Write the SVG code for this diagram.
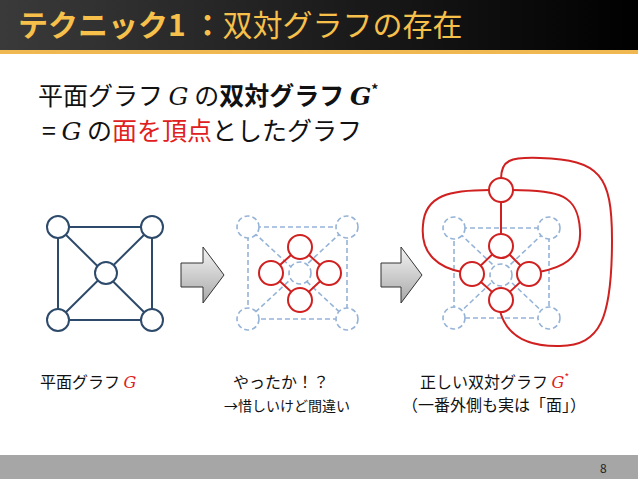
<svg xmlns="http://www.w3.org/2000/svg" width="638" height="479" viewBox="0 0 638 479">
<style>
text{font-family:"Noto Sans CJK JP","Noto Sans",sans-serif}
.m{font-family:"DejaVu Serif",serif;font-style:italic}
.g{fill:#fff;stroke:#2e4a6b;stroke-width:2}
.ge{stroke:#2e4a6b;stroke-width:2;fill:none}
.d{fill:#fff;stroke:#95b3d7;stroke-width:1.6;stroke-dasharray:5,3}
.de{stroke:#95b3d7;stroke-width:1.6;stroke-dasharray:5,3;fill:none}
.r{fill:#fff;stroke:#d02020;stroke-width:2}
.re{stroke:#d02020;stroke-width:2;fill:none}
.ar{fill:url(#ag);stroke:#333;stroke-width:1}
</style>
<defs>
<linearGradient id="hg" x1="0" x2="1"><stop offset="0" stop-color="#3a3a3a"/><stop offset="1" stop-color="#000"/></linearGradient>
<linearGradient id="ag" x1="0" y1="0" x2="0" y2="1"><stop offset="0" stop-color="#f4f4f4"/><stop offset="1" stop-color="#a8a8a8"/></linearGradient>
</defs>
<rect width="638" height="479" fill="#fff"/>
<rect width="638" height="50" fill="url(#hg)"/>
<rect y="50" width="638" height="4" fill="#f0b850"/>
<text x="18" y="36" font-size="30" fill="#f7c04a"><tspan font-weight="bold">テクニック1 ：</tspan>双対グラフの存在</text>
<text x="38" y="105" font-size="25" fill="#111">平面グラフ <tspan class="m">G</tspan> の<tspan font-weight="bold">双対グラフ <tspan class="m">G</tspan><tspan font-size="14" dy="-10">*</tspan></tspan></text>
<text x="42" y="140" font-size="25" fill="#111">= <tspan class="m">G</tspan> の<tspan fill="#e02020">面を頂点</tspan>としたグラフ</text>
<g id="connectors">
<path class="ge" d="M58 227H152V320H58Z M58 227L152 320 M152 227L58 320"/>
<path class="de" d="M248 227H347V319H248Z M248 227L347 319 M347 227L248 319"/>
<path class="re" d="M300 247L271 273L300 300L329 273Z"/>
<path class="de" d="M454 228H549V318H454Z M454 228L549 318 M549 228L454 318"/>
<path class="re" d="M501 246L472 274L501 300L529 274Z M501 190V246"/>
<path class="re" d="M490 190C450 190 425 195 423 225C420 255 440 268 462 272"/>
<path class="re" d="M512 190C560 190 578 195 580 230C582 260 560 268 539 272"/>
<path class="re" d="M501 179C501 160 510 157 540 158C600 160 612 175 612 240C612 320 600 345 560 346C520 347 505 330 500 311"/>
</g>
<g id="g1"><circle class="g" cx="58" cy="227" r="11"/><circle class="g" cx="152" cy="227" r="11"/><circle class="g" cx="58" cy="320" r="11"/><circle class="g" cx="152" cy="320" r="11"/><circle class="g" cx="106" cy="273" r="11"/></g>
<g id="g2"><circle class="d" cx="248" cy="227" r="11"/><circle class="d" cx="347" cy="227" r="11"/><circle class="d" cx="248" cy="319" r="11"/><circle class="d" cx="347" cy="319" r="11"/><circle class="d" cx="300" cy="273" r="11" stroke-dasharray="none"/>
<circle class="r" cx="300" cy="247" r="12"/><circle class="r" cx="271" cy="273" r="12"/><circle class="r" cx="329" cy="273" r="12"/><circle class="r" cx="300" cy="300" r="12"/></g>
<g id="g3"><circle class="d" cx="454" cy="228" r="11"/><circle class="d" cx="549" cy="228" r="11"/><circle class="d" cx="454" cy="318" r="11"/><circle class="d" cx="549" cy="318" r="11"/><circle class="d" cx="501" cy="275" r="11" stroke-dasharray="none"/>
<circle class="r" cx="501" cy="246" r="12"/><circle class="r" cx="472" cy="274" r="12"/><circle class="r" cx="529" cy="274" r="12"/><circle class="r" cx="501" cy="300" r="12"/><circle class="r" cx="501" cy="190" r="12"/></g>
<path class="ar" d="M181 263H203V247L224 275L203 303V287H181Z"/>
<path class="ar" d="M381 263H401V247L422 275L401 303V287H381Z"/>
<text x="40" y="388" font-size="16" fill="#111">平面グラフ <tspan class="m" fill="#e02020">G</tspan></text>
<text x="233" y="388" font-size="16" fill="#111">やったか！？</text>
<text x="224" y="411" font-size="14" fill="#111">→惜しいけど間違い</text>
<text x="420" y="388" font-size="16" fill="#111">正しい双対グラフ <tspan class="m" fill="#e02020">G</tspan><tspan font-size="10" dy="-7" fill="#e02020">*</tspan></text>
<text x="402" y="411" font-size="16" fill="#111">（一番外側も実は「面」）</text>
<rect y="455" width="638" height="24" fill="#a6a6a6"/>
<text x="600" y="473" font-size="12" fill="#222" font-family="Liberation Sans,sans-serif">8</text>
</svg>
